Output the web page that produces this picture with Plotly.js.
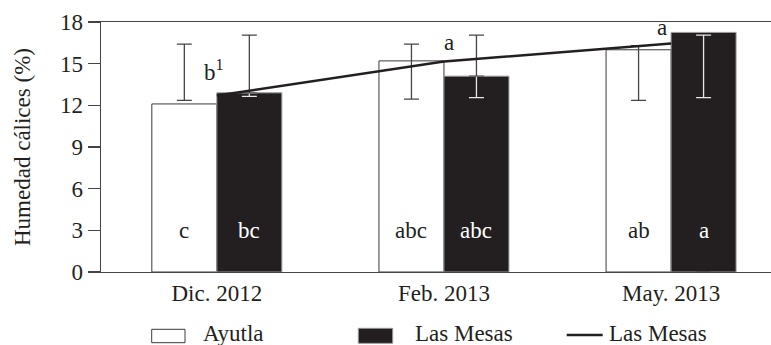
<!DOCTYPE html>
<html>
<head>
<meta charset="utf-8">
<script src="https://cdn.plot.ly/plotly-3.0.1.min.js"></script>
<style>
  html, body { margin: 0; padding: 0; background: #fff; }
  #chart { width: 771px; height: 345px; }
</style>
</head>
<body>
<div id="chart"></div>
<script>
// ---- data ----
const categories = ['Dic. 2012', 'Feb. 2013', 'May. 2013'];
const ayutla = [12.1, 15.2, 16.0];
const lasMesas = [12.9, 14.1, 17.25];
const lasMesasLine = [12.7, 15.15, 16.45];
const ayutlaErrHigh = [16.4, 16.4, 16.3];
const ayutlaErrLow = [12.35, 12.45, 12.35];
const mesasErrHigh = [17.05, 17.05, 17.05];
const mesasErrLow = [12.65, 12.55, 12.55];
const ayutlaLetters = ['c', 'abc', 'ab'];
const mesasLetters = ['bc', 'abc', 'a'];
const lineLetters = ['b<sup>1</sup>', 'a', 'a'];
const yTicks = [0, 3, 6, 9, 12, 15, 18];
const legendNames = ['Ayutla', 'Las Mesas', 'Las Mesas'];

// ---- styling / layout ----
const FONT = '"Liberation Serif", serif';
const INK = '#231f20';
const W = 771, H = 345, ML = 101, MR = 0, MT = 22, MB = 73;
const PW = W - ML - MR, PH = H - MT - MB;
const px = x => (x - ML) / PW;          // pixel -> paper x
const py = y => (H - MB - y) / PH;      // pixel -> paper y
const BAR_HALF = 32.5;                   // px offset of each bar from group centre

// error-bar segments: each drawn on a zero-height transparent bar whose base is the segment midpoint
const mid = (lo, hi) => lo.map((l, i) => (l === null || hi[i] === null) ? null : (l + hi[i]) / 2);
const half = (lo, hi) => lo.map((l, i) => (l === null || hi[i] === null) ? 0 : (hi[i] - l) / 2);

const mesasWhiteHi = mesasErrHigh.map((h, i) => Math.min(h, lasMesas[i]));
const mesasDarkLo = lasMesas.map((b, i) => mesasErrHigh[i] > b ? b : null);
const mesasDarkHi = mesasErrHigh.map((h, i) => h > lasMesas[i] ? h : null);

const zeros = categories.map(() => 0);
const errTrace = (group, lo, hi, color) => ({
  type: 'bar', x: categories, y: zeros, base: mid(lo, hi), offsetgroup: group,
  marker: { color: 'rgba(0,0,0,0)', line: { width: 0 } },
  error_y: { type: 'data', array: half(lo, hi), visible: true, color: color, thickness: 1.3, width: 7.5 },
  hoverinfo: 'skip', showlegend: false
});

const traces = [
  {
    type: 'bar', x: categories, y: ayutla, name: legendNames[0], offsetgroup: 'A',
    marker: { color: '#ffffff', line: { color: '#3a3a3a', width: 1 } },
    hoverinfo: 'skip', showlegend: false
  },
  {
    type: 'bar', x: categories, y: lasMesas, name: legendNames[1], offsetgroup: 'B',
    marker: { color: INK, line: { color: '#9a9a9a', width: 1 } },
    hoverinfo: 'skip', showlegend: false
  },
  errTrace('A', ayutlaErrLow, ayutlaErrHigh, '#454545'),
  errTrace('B', mesasErrLow, mesasWhiteHi, '#e8e8e8'),
  errTrace('B', mesasDarkLo, mesasDarkHi, '#454545'),
  {
    type: 'scatter', mode: 'lines', x: categories, y: lasMesasLine, name: legendNames[2],
    line: { color: INK, width: 2.5 },
    hoverinfo: 'skip', showlegend: false
  }
];

const annotations = [];
categories.forEach((c, i) => {
  annotations.push({
    x: c, y: 3, xref: 'x', yref: 'y', xshift: -BAR_HALF, text: ayutlaLetters[i],
    showarrow: false, font: { family: FONT, size: 23, color: INK }, yanchor: 'middle'
  });
  annotations.push({
    x: c, y: 3, xref: 'x', yref: 'y', xshift: BAR_HALF, text: mesasLetters[i],
    showarrow: false, font: { family: FONT, size: 23, color: '#ffffff' }, yanchor: 'middle'
  });
});
// letters above the line
const lineLetterY = [14.5, 16.55, 17.6];
const lineLetterShift = [-3, 5, -9];
categories.forEach((c, i) => {
  annotations.push({
    x: c, y: lineLetterY[i], xref: 'x', yref: 'y', xshift: lineLetterShift[i],
    text: lineLetters[i], showarrow: false,
    font: { family: FONT, size: 23, color: INK }, yanchor: 'middle'
  });
});

// y-axis title
annotations.push({
  x: px(22), y: 0.5, xref: 'paper', yref: 'paper', text: 'Humedad cálices (%)',
  textangle: -90, showarrow: false, xanchor: 'center', yanchor: 'middle',
  font: { family: FONT, size: 23, color: INK }
});

// manual legend
const legendTextX = [201, 413, 607];
legendNames.forEach((n, i) => {
  annotations.push({
    x: px(legendTextX[i]), y: py(333), xref: 'paper', yref: 'paper', text: n,
    showarrow: false, xanchor: 'left', yanchor: 'middle',
    font: { family: FONT, size: 23, color: INK }
  });
});
const shapes = [
  { type: 'rect', xref: 'paper', yref: 'paper', x0: px(151.7), x1: px(185), y0: py(329.3), y1: py(342.7),
    fillcolor: '#ffffff', line: { color: '#3a3a3a', width: 1 } },
  { type: 'rect', xref: 'paper', yref: 'paper', x0: px(358.3), x1: px(392.7), y0: py(328.3), y1: py(343.3),
    fillcolor: INK, line: { color: '#9a9a9a', width: 1 } },
  { type: 'line', xref: 'paper', yref: 'paper', x0: px(566.7), x1: px(602.7), y0: py(335), y1: py(335),
    line: { color: INK, width: 2.5 } }
];

const layout = {
  width: W, height: H,
  margin: { l: ML, r: MR, t: MT, b: MB, pad: 0 },
  paper_bgcolor: '#ffffff', plot_bgcolor: '#ffffff',
  showlegend: false,
  barmode: 'group', bargap: 0.4276, bargroupgap: 0,
  font: { family: FONT, size: 23, color: INK },
  xaxis: {
    type: 'category', range: [-0.51, 2.44], showgrid: false, zeroline: false,
    showline: true, linecolor: '#444444', linewidth: 1.3, mirror: true,
    ticks: '', tickfont: { family: FONT, size: 23, color: INK }, ticklabelstandoff: 0
  },
  yaxis: {
    range: [0, 18], tickvals: yTicks, showgrid: false, zeroline: false,
    showline: true, linecolor: '#444444', linewidth: 1.3,
    ticks: 'outside', ticklen: 12, tickwidth: 1.3, tickcolor: '#444444',
    tickfont: { family: FONT, size: 23, color: INK }
  },
  annotations: annotations,
  shapes: shapes
};

Plotly.newPlot('chart', traces, layout, { staticPlot: true, displayModeBar: false });
</script>
</body>
</html>
